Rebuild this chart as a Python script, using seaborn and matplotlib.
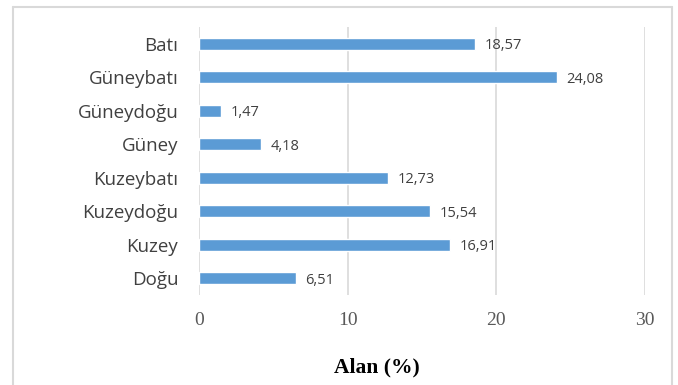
import matplotlib
matplotlib.use("Agg")
import matplotlib.pyplot as plt
import seaborn as sns
import pandas as pd
from matplotlib.lines import Line2D

categories = ["Batı", "Güneybatı", "Güneydoğu", "Güney", "Kuzeybatı", "Kuzeydoğu", "Kuzey", "Doğu"]
values = [18.57, 24.08, 1.47, 4.18, 12.73, 15.54, 16.91, 6.51]
value_labels = ["18,57", "24,08", "1,47", "4,18", "12,73", "15,54", "16,91", "6,51"]
xticks = [0, 10, 20, 30]
xlabel = "Alan (%)"

df = pd.DataFrame({"cat": categories, "val": values})

sns.set_theme(style="white")
fig = plt.figure(figsize=(6.78, 3.85), dpi=100)
ax = fig.add_axes([199/678, 1-295/385, (645-199)/678, (295-27)/385])

sns.barplot(data=df, x="val", y="cat", orient="h", color="#5B9BD5", saturation=1,
            width=0.36, ax=ax, zorder=3)

ax.set_xlim(0, 30)
ax.set_ylim(7.5, -0.5)
ax.set_xticks(xticks)
ax.set_xticklabels([str(t) for t in xticks], family="Liberation Serif", fontsize=14, color="#595959")
ax.tick_params(axis="x", length=0, pad=12)
ax.tick_params(axis="y", length=0, pad=15)
for lbl in ax.get_yticklabels():
    lbl.set_family("Open Sans")
    lbl.set_fontsize(13.5)
    lbl.set_color("#404040")
ax.grid(axis="x", color="#d9d9d9", linewidth=1.2, zorder=0)
ax.grid(axis="y", visible=False)
for s in ax.spines.values():
    s.set_visible(False)
ax.set_ylabel("")
ax.set_xlabel("")
fig.text(377/678, 1-367/385, xlabel, family="Liberation Serif", fontweight="bold",
         fontsize=15.5, color="black", ha="center", va="center")

for i, (v, t) in enumerate(zip(values, value_labels)):
    ax.text(v + 0.65, i, t, va="center_baseline", ha="left", family="Open Sans", fontsize=10.5, color="#404040")

c = "#d9d9d9"
fig.add_artist(Line2D([13/678, 13/678], [0, 1-7/385], color=c, lw=1.5, transform=fig.transFigure))
fig.add_artist(Line2D([672/678, 672/678], [0, 1-7/385], color=c, lw=1.5, transform=fig.transFigure))
fig.add_artist(Line2D([13/678, 672/678], [1-7/385, 1-7/385], color=c, lw=1.5, transform=fig.transFigure))

fig.savefig("out.png", dpi=100)
